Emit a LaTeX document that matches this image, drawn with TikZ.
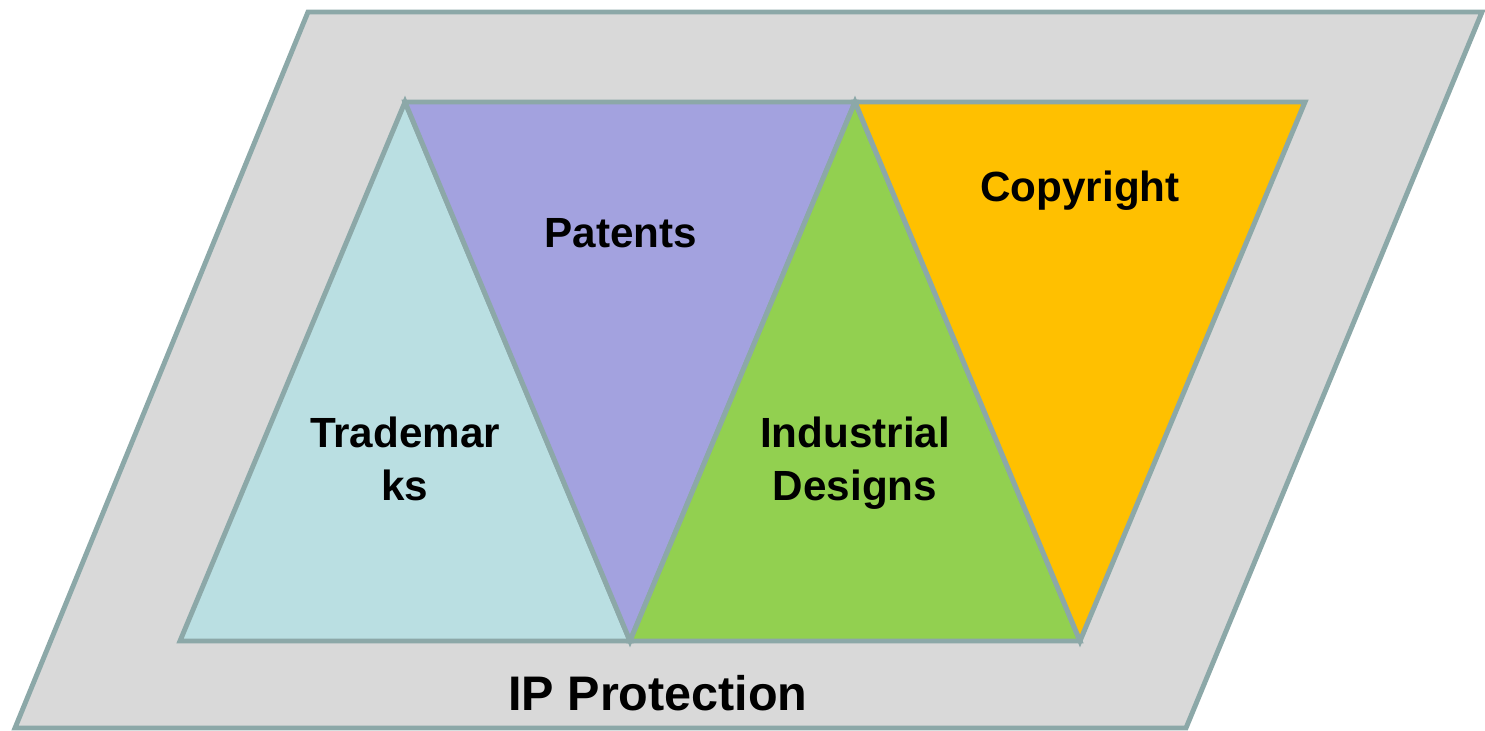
\documentclass[tikz,border=0pt]{standalone}
\usepackage{fontspec}
\setmainfont{Liberation Sans}
\usetikzlibrary{calc}

\definecolor{edgegray}{HTML}{8CA8A8}
\definecolor{framegray}{HTML}{D9D9D9}
\definecolor{tmblue}{HTML}{BADFE2}
\definecolor{patviolet}{HTML}{A3A2DF}
\definecolor{idgreen}{HTML}{92D050}
\definecolor{cropyellow}{HTML}{FFC000}

\tikzset{
    ipshape/.style={draw=edgegray, line width=1.4pt, line join=miter},
    iplabel/.style={font=\bfseries\fontsize{12}{15}\selectfont, align=center, text=black},
}

\begin{document}
\begin{tikzpicture}[x=0.01cm, y=-0.01cm]
    \useasboundingbox (0,0) rectangle (1485,731);

    % Outer parallelogram (IP protection frame)
    \draw[ipshape, fill=framegray] (308,12) -- (1482,12) -- (1186,728) -- (15,728) -- cycle;

    % Corner points of the triangles
    \coordinate (apexA) at (405,102);
    \coordinate (apexB) at (855,102);
    \coordinate (topC) at (1305,102);
    \coordinate (baseA) at (180,641);
    \coordinate (baseB) at (630,641);
    \coordinate (baseC) at (1080,641);

    % Upward and downward triangles
    \draw[ipshape, fill=tmblue] (baseA) -- (apexA) -- (baseB) -- cycle;
    \draw[ipshape, fill=patviolet] (apexA) -- (apexB) -- (baseB) -- cycle;
    \draw[ipshape, fill=idgreen] (baseB) -- (apexB) -- (baseC) -- cycle;
    \draw[ipshape, fill=cropyellow] (apexB) -- (topC) -- (baseC) -- cycle;

    % Labels
    \node[iplabel] (trademarks) at (405,459) {Trademar\\ks};
    \node[iplabel] (patents) at (621,233) {Patents};
    \node[iplabel] (designs) at (855,463) {Industrial\\Designs};
    \node[iplabel] (copyright) at (1080,191) {Copyright};
    \node[iplabel, font=\bfseries\fontsize{13.8}{17}\selectfont] (protection) at (658,693) {IP Protection};
\end{tikzpicture}
\end{document}
